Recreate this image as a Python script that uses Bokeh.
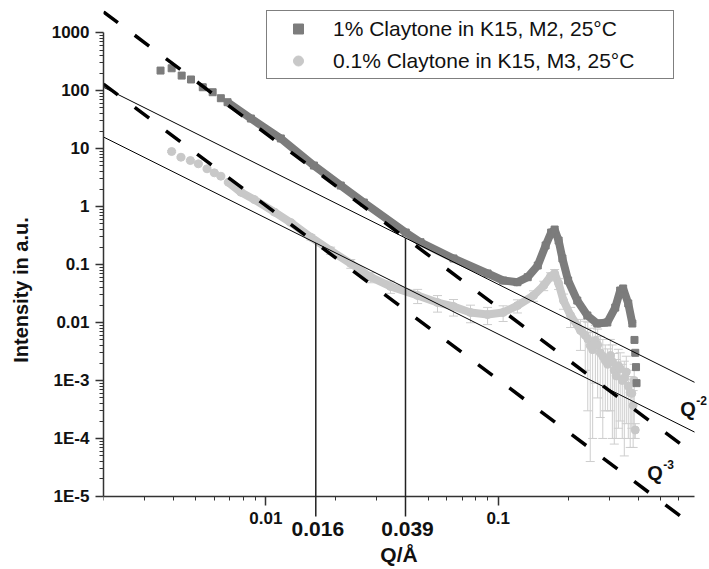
import math
from bokeh.plotting import figure
from bokeh.models import (FixedTicker, Legend, LegendItem, Label, Arrow, Whisker,
                          TeeHead, ColumnDataSource, Range1d)
from bokeh.embed import file_html
from bokeh.resources import INLINE

# ---------------- data ----------------
# 1% Claytone in K15, M2, 25°C
q_m2 = [0.00352, 0.00393, 0.00434, 0.00476, 0.00535, 0.00590, 0.00640, 0.00684,
        0.00862, 0.0116, 0.0161, 0.0210, 0.0264, 0.0400, 0.0463, 0.0642, 0.0900,
        0.105, 0.121, 0.134, 0.148, 0.160, 0.169, 0.175, 0.182, 0.189, 0.200,
        0.219, 0.242, 0.267, 0.295, 0.319, 0.335, 0.345, 0.363, 0.378,
        0.386, 0.389, 0.392, 0.394]
i_m2 = [221, 242, 181, 155, 114, 93.5, 73.7, 62.9,
        32.9, 14.9, 5.09, 2.30, 1.17, 0.356, 0.242, 0.127, 0.0700,
        0.0530, 0.0495, 0.0604, 0.0961, 0.213, 0.356, 0.401, 0.259, 0.127, 0.0530,
        0.0239, 0.0132, 0.0096, 0.0100, 0.0181, 0.0356, 0.0386, 0.0213, 0.0096,
        0.0050, 0.0030, 0.0017, 0.0009]

# 0.1% Claytone in K15, M3, 25°C
q_m3 = [0.00393, 0.00431, 0.00473, 0.00512, 0.00558, 0.00600, 0.00640, 0.00689,
        0.00781, 0.00891, 0.0109, 0.0128, 0.0156, 0.0190, 0.0232, 0.0283, 0.0344,
        0.0450, 0.0548, 0.0642, 0.0760, 0.0900, 0.105, 0.121, 0.142, 0.157, 0.168,
        0.175, 0.182, 0.191, 0.205, 0.226, 0.237, 0.243, 0.249, 0.255, 0.262,
        0.268, 0.275, 0.282, 0.289, 0.296, 0.304, 0.310, 0.316, 0.322, 0.329,
        0.335, 0.342, 0.349, 0.356, 0.363, 0.370, 0.376, 0.381, 0.385, 0.389]
i_m3 = [8.88, 7.08, 6.21, 5.45, 4.47, 3.81, 3.33, 2.62,
        1.76, 1.32, 0.798, 0.530, 0.296, 0.174, 0.104, 0.0604, 0.0418,
        0.0292, 0.0221, 0.0189, 0.0149, 0.0137, 0.0149, 0.0196, 0.0292, 0.0434, 0.0621,
        0.0700, 0.0470, 0.0239, 0.0132, 0.0073, 0.0060, 0.0052, 0.0040, 0.0034, 0.0049,
        0.0041, 0.0030, 0.0026, 0.0022, 0.0019, 0.0027, 0.0021, 0.0015, 0.0012, 0.0018,
        0.0016, 0.0010, 0.0011, 0.0014, 0.0008, 0.00062, 0.0006, 0.00037, 0.0010, 0.00014]
err_m3 = [0.35, 0.28, 0.25, 0.22, 0.18, 0.15, 0.13, 0.10,
          0.07, 0.06, 0.05, 0.04, 0.03, 0.025, 0.018, 0.012, 0.010,
          0.008, 0.007, 0.006, 0.005, 0.0045, 0.0045, 0.005, 0.006, 0.008, 0.010,
          0.012, 0.010, 0.007, 0.005, 0.004, 0.0045, 0.0049, 0.00396, 0.0033, 0.0040,
          0.0036, 0.00277, 0.0025, 0.0019, 0.0016, 0.0024, 0.0020, 0.00142, 0.0011, 0.00165,
          0.0014, 0.0009, 0.00105, 0.00122, 0.0007, 0.00055, 0.00045, 0.0003, 0.0009, 0.00004]

# power-law guide lines (Q^-3 dashed, Q^-2 solid), end points
guide_q = [0.002, 0.7]
upper_q3 = [2273, 5.30e-5]
upper_q2 = [113.9, 9.30e-4]
lower_q3 = [129.4, 3.02e-6]
lower_q2 = [15.79, 1.289e-4]

# crossover points of the guide lines
q_cross = [0.0164, 0.0399]
i_cross = [0.2348, 0.2863]
cross_labels = ["0.016", "0.039"]

# ticks
x_major = [0.01, 0.1]
x_labels = ["0.01", "0.1"]
y_major = [1e-5, 1e-4, 1e-3, 0.01, 0.1, 1, 10, 100, 1000]
y_labels = ["1E-5", "1E-4", "1E-3", "0.01", "0.1", "1", "10", "100", "1000"]

legend_labels = ["1% Claytone in K15, M2, 25°C", "0.1% Claytone in K15, M3, 25°C"]

DARK = "#7c7c7c"
LIGHT = "#c8c8c8"
ERR = "#cdcdcd"
INK = "#111111"
FONT = "Liberation Sans"

p = figure(width=709, height=569, x_axis_type="log", y_axis_type="log",
           x_range=Range1d(0.002, 0.812), y_range=Range1d(5.5e-7, 2400),
           output_backend="svg", toolbar_location=None,
           min_border_left=103, min_border_right=0, min_border_top=10, min_border_bottom=0)
p.outline_line_color = None
p.grid.visible = False
p.background_fill_color = "white"
p.border_fill_color = "white"

# error bars of the light series
lo = [max(i - e, 1e-9) for i, e in zip(i_m3, err_m3)]
hi = [i + e for i, e in zip(i_m3, err_m3)]
esrc = ColumnDataSource(dict(q=q_m3, lo=lo, hi=hi))
wh = Whisker(base="q", lower="lo", upper="hi", source=esrc, dimension="height",
             line_color=ERR, line_width=1,
             upper_head=TeeHead(size=9, line_color=ERR, line_width=1),
             lower_head=TeeHead(size=9, line_color=ERR, line_width=1))
p.add_layout(wh)

# data bands and markers
p.line(q_m3[7:33], i_m3[7:33], line_width=8, line_color=LIGHT)
r_light = p.scatter(q_m3, i_m3, marker="circle", size=8, fill_color=LIGHT, line_color=LIGHT)
p.line(q_m2[7:36], i_m2[7:36], line_width=8, line_color=DARK)
r_dark = p.scatter(q_m2, i_m2, marker="square", size=7, fill_color=DARK, line_color=DARK)

# guide lines
p.line(guide_q, upper_q3, line_color="black", line_width=3.5, line_dash="18 21")
p.line(guide_q, lower_q3, line_color="black", line_width=3.5, line_dash="18 21")
p.line(guide_q, upper_q2, line_color="black", line_width=1)
p.line(guide_q, lower_q2, line_color="black", line_width=1)

# crossover markers
for qc, ic, lab in zip(q_cross, i_cross, cross_labels):
    p.add_layout(Arrow(end=None, x_start=qc, y_start=ic, x_end=qc, y_end=4.5e-6,
                       line_color="#222222", line_width=1.5))
    p.add_layout(Label(x=qc, y=1e-5, x_offset=2, y_offset=-33, text=lab,
                       text_align="center", text_baseline="alphabetic",
                       text_font=FONT, text_font_style="bold", text_font_size="21px",
                       text_color=INK))

# exponent labels
for qx, iy, dx, sup in ((0.438, 2.49e-5, 0, "-3"), (0.638, 3.16e-4, -5, "-2")):
    p.add_layout(Label(x=qx, y=iy, x_offset=dx, text="Q", text_font=FONT,
                       text_font_style="bold", text_font_size="20px", text_color=INK,
                       text_baseline="alphabetic"))
    p.add_layout(Label(x=qx, y=iy, x_offset=dx + 16, y_offset=9, text=sup, text_font=FONT,
                       text_font_style="bold", text_font_size="12px", text_color=INK,
                       text_baseline="alphabetic"))

# x axis title
p.add_layout(Label(x=0.0374, y=1e-5, y_offset=-58, text="Q/Å", text_align="center",
                   text_baseline="alphabetic", text_font=FONT, text_font_style="bold",
                   text_font_size="21px", text_color=INK))

# axes
x_minor = [m * 10.0 ** k for k in (-3, -2, -1) for m in range(2, 10) if m * 10.0 ** k <= 0.7]
y_minor = [m * 10.0 ** k for k in range(-5, 3) for m in range(2, 10)]
p.xaxis.ticker = FixedTicker(ticks=x_major, minor_ticks=x_minor)
p.yaxis.ticker = FixedTicker(ticks=y_major, minor_ticks=y_minor)
p.xaxis.major_label_overrides = dict(zip(x_major, x_labels))
p.yaxis.major_label_overrides = dict(zip(y_major, y_labels))
p.xaxis.bounds = (0.002, 0.7)
p.yaxis.bounds = (1e-5, 1000)
p.xaxis.fixed_location = 1e-5
for ax in (p.xaxis[0], p.yaxis[0]):
    ax.axis_line_color = "#333333"
    ax.axis_line_width = 1.5
    ax.major_tick_line_color = "#333333"
    ax.major_tick_line_width = 1.5
    ax.minor_tick_line_color = "#333333"
    ax.minor_tick_line_width = 1
    ax.major_tick_in = 0
    ax.minor_tick_in = 0
    ax.minor_tick_out = 4
    ax.major_label_text_font = FONT
    ax.major_label_text_font_style = "bold"
    ax.major_label_text_font_size = "17px"
    ax.major_label_text_color = INK
p.xaxis.major_tick_out = 9
p.yaxis.major_tick_out = 8
p.xaxis.major_label_standoff = 7
p.yaxis.major_label_standoff = 6
p.yaxis.axis_label = "Intensity in a.u."
p.yaxis.axis_label_text_font = FONT
p.yaxis.axis_label_text_font_style = "bold"
p.yaxis.axis_label_text_font_size = "20px"
p.yaxis.axis_label_text_color = INK
p.yaxis.axis_label_standoff = 17

legend = Legend(items=[LegendItem(label=legend_labels[0], renderers=[r_dark]),
                       LegendItem(label=legend_labels[1], renderers=[r_light])],
                location=(163, 490), label_text_font=FONT, label_text_font_size="21px",
                label_text_color=INK, glyph_width=52, glyph_height=25,
                label_height=25, label_width=335, label_standoff=9, padding=5, spacing=7,
                border_line_color="black", border_line_width=1, background_fill_alpha=1)
p.add_layout(legend)

open("out.html", "w").write(file_html(p, INLINE))
